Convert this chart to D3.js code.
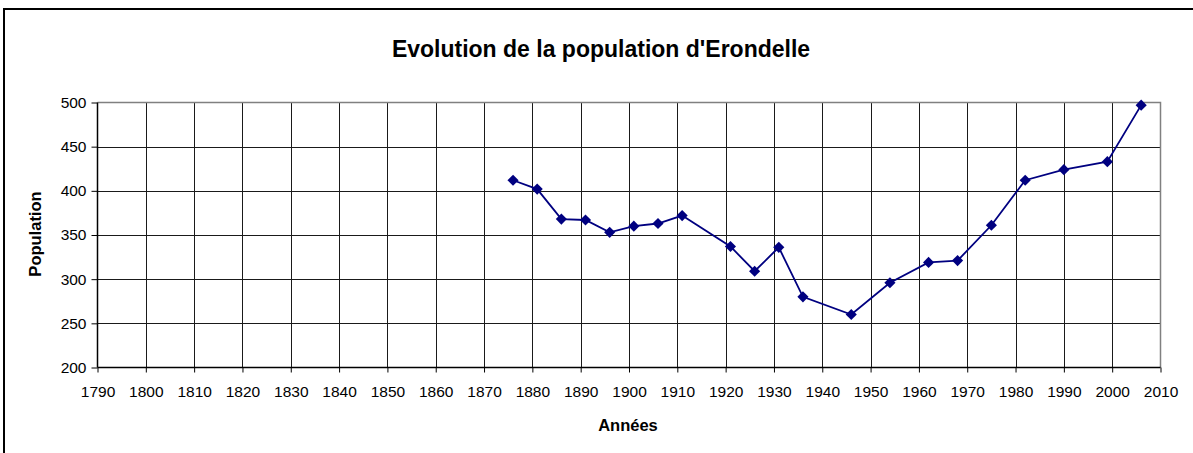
<!DOCTYPE html>
<html>
<head>
<meta charset="utf-8">
<script src="https://cdn.jsdelivr.net/npm/d3@7"></script>
<style>
  body { margin: 0; background: #fff; }
  svg { display: block; font-family: "Liberation Sans", Arial, sans-serif; }
</style>
</head>
<body>
<div class="chart"></div>
<script>
// Population d'Erondelle
const years = [1876, 1881, 1886, 1891, 1896, 1901, 1906, 1911, 1921, 1926, 1931, 1936, 1946, 1954, 1962, 1968, 1975, 1982, 1990, 1999, 2006]
const population = [412, 402, 368, 367, 353, 360, 363, 372, 337, 309, 336, 280, 260, 296, 319, 321, 361, 412, 424, 433, 497]
const xTicks = d3.range(1790, 2011, 10)
const yTicks = [200, 250, 300, 350, 400, 450, 500]

const width = 1193, height = 453
const plotL = 97.5, plotR = 1160.5, plotT = 102.5, plotB = 367.5

const svg = d3.select('.chart').append('svg')
  .attr('width', width)
  .attr('height', height)

// outer frame (only top and left edges are inside the picture)
svg.append('rect')
  .attr('x', 4).attr('y', 9)
  .attr('width', width + 20).attr('height', height + 20)
  .attr('fill', 'none')
  .attr('stroke', '#000')
  .attr('stroke-width', 2)

let xScale = d3.scaleLinear().domain([1790, 2010]).range([plotL, plotR])
let yScale = d3.scaleLinear().domain([200, 500]).range([plotB, plotT])

// grid
svg.append('g')
  .selectAll('line')
  .data(xTicks.slice(1, -1))
  .enter()
  .append('line')
  .attr('x1', d => Math.round(xScale(d)) + 0.5)
  .attr('x2', d => Math.round(xScale(d)) + 0.5)
  .attr('y1', plotT).attr('y2', plotB)
  .attr('stroke', '#1a1a1a')
  .attr('stroke-width', 1)

svg.append('g')
  .selectAll('line')
  .data(yTicks.slice(1, -1))
  .enter()
  .append('line')
  .attr('x1', plotL).attr('x2', plotR)
  .attr('y1', d => Math.round(yScale(d)) + 0.5)
  .attr('y2', d => Math.round(yScale(d)) + 0.5)
  .attr('stroke', '#1a1a1a')
  .attr('stroke-width', 1)

// plot border top/right
svg.append('path')
  .attr('d', d3.line()([[plotL, plotT], [plotR, plotT], [plotR, plotB]]))
  .attr('stroke', '#808080')
  .attr('stroke-width', 1.5)
  .attr('fill', 'none')

// axes
const yAxis = svg.append('g')
  .attr('transform', 'translate(' + plotL + ',0)')
  .call(d3.axisLeft(yScale).tickValues(yTicks).tickSize(6).tickPadding(5))

const xAxis = svg.append('g')
  .attr('transform', 'translate(0,' + plotB + ')')
  .call(d3.axisBottom(xScale).tickValues(xTicks).tickFormat(d3.format('d')).tickSize(5).tickPadding(13))

;[xAxis, yAxis].forEach(a => {
  a.selectAll('.tick text').attr('font-size', 15.5).attr('fill', '#000').attr('font-family', '"Liberation Sans", Arial, sans-serif')
  a.selectAll('.tick line').attr('stroke', '#000')
  a.select('.domain').attr('stroke', '#000').attr('stroke-width', 1.5)
})
xAxis.select('.domain').attr('d', 'M' + plotL + ',0H' + plotR)
yAxis.select('.domain').attr('d', 'M0,' + plotT + 'V' + plotB)

// line + markers
const line = d3.line()
  .x((d, i) => xScale(years[i]))
  .y(d => yScale(d))

svg.append('path')
  .datum(population)
  .attr('d', line)
  .attr('stroke', '#000080')
  .attr('stroke-width', 1.8)
  .attr('fill', 'none')

svg.append('g')
  .selectAll('path')
  .data(population)
  .enter()
  .append('path')
  .attr('d', d3.symbol().type(d3.symbolSquare).size(62))
  .attr('transform', (d, i) => 'translate(' + xScale(years[i]) + ',' + yScale(d) + ') rotate(45)')
  .attr('fill', '#000080')

// titles
svg.append('text')
  .attr('x', 601).attr('y', 57)
  .attr('text-anchor', 'middle')
  .attr('font-size', 23)
  .attr('font-weight', 'bold')
  .text("Evolution de la population d'Erondelle")

svg.append('text')
  .attr('transform', 'translate(40.5,234) rotate(-90)')
  .attr('text-anchor', 'middle')
  .attr('font-size', 16.5)
  .attr('font-weight', 'bold')
  .text('Population')

svg.append('text')
  .attr('x', 628).attr('y', 431)
  .attr('text-anchor', 'middle')
  .attr('font-size', 16.5)
  .attr('font-weight', 'bold')
  .text('Années')
</script>
</body>
</html>
